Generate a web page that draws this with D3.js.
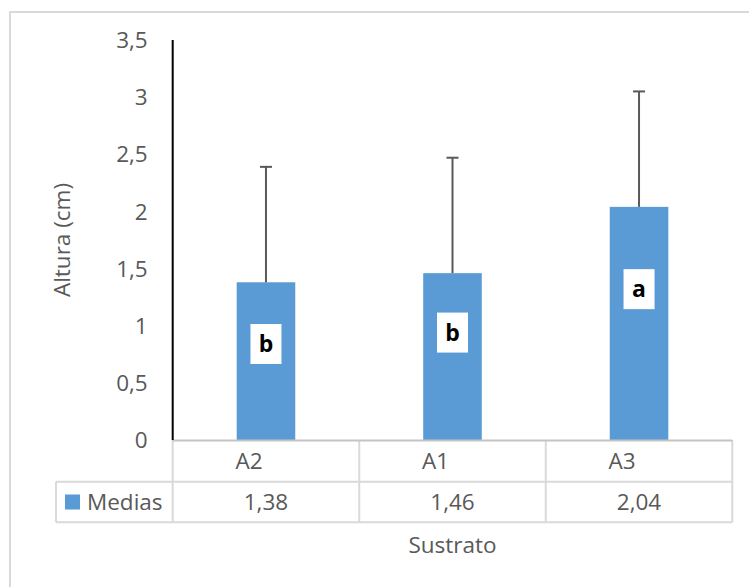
<!DOCTYPE html>
<html>
<head>
<meta charset="utf-8">
<script src="https://cdn.jsdelivr.net/npm/d3@7/dist/d3.min.js"></script>
<style>
  html, body { margin: 0; padding: 0; background: #fff; }
  svg { display: block; }
  text { font-family: "Open Sans", Lato, sans-serif; }
</style>
</head>
<body>
<svg id="chart" width="749" height="587"></svg>
<script>
// ---- data ----
const categories = ["A2", "A1", "A3"];
const means = [1.38, 1.46, 2.04];
const meanLabels = ["1,38", "1,46", "2,04"];
const errors = [1.01, 1.01, 1.01];
const letters = ["b", "b", "a"];
const letterAt = [0.84, 0.94, 1.32];   // value (cm) where the letter box is centred
const yTicks = [0, 0.5, 1, 1.5, 2, 2.5, 3, 3.5];
const seriesName = "Medias";
const yTitle = "Altura (cm)";
const xTitle = "Sustrato";

// ---- layout ----
const W = 749, H = 587;
const plotLeft = 172.7, plotRight = 732.3, plotTop = 40, plotBottom = 440;
const rowH = 41;
const fs = 22.5;
const barColor = "#5b9bd5";
const textColor = "#595959";
const gridColor = "#d9d9d9";

const svg = d3.select("#chart");

// outer chart border (only top/left visible in frame)
svg.append("rect")
  .attr("x", 10).attr("y", 12)
  .attr("width", W + 20).attr("height", H + 20)
  .attr("fill", "#fff").attr("stroke", gridColor).attr("stroke-width", 2);

const data = categories.map((c, i) => ({
  cat: c, mean: means[i], label: meanLabels[i], err: errors[i],
  letter: letters[i], letterAt: letterAt[i]
}));

const p = 0.686;
const x = d3.scaleBand().domain(categories)
  .range([plotLeft, plotRight]).paddingInner(p).paddingOuter(p / 2);
const y = d3.scaleLinear().domain([0, 3.5]).range([plotBottom, plotTop]);
const step = x.step();
const cellLeft = c => x(c) - step * p / 2;
const center = c => x(c) + x.bandwidth() / 2;

// y tick labels
const fmt = v => String(v).replace(".", ",");
svg.append("g").selectAll("text").data(yTicks).join("text")
  .attr("x", plotLeft - 25)
  .attr("y", d => y(d))
  .attr("dy", "0.36em")
  .attr("text-anchor", "end")
  .attr("font-size", fs)
  .attr("fill", textColor)
  .text(fmt);

// bars
svg.append("g").selectAll("rect").data(data).join("rect")
  .attr("x", d => x(d.cat))
  .attr("y", d => y(d.mean))
  .attr("width", x.bandwidth())
  .attr("height", d => y(0) - y(d.mean))
  .attr("fill", barColor);

// error bars
const eb = svg.append("g").attr("stroke", "#595959").attr("stroke-width", 2);
eb.selectAll("line.v").data(data).join("line").attr("class", "v")
  .attr("x1", d => center(d.cat)).attr("x2", d => center(d.cat))
  .attr("y1", d => y(d.mean)).attr("y2", d => y(d.mean + d.err));
eb.selectAll("line.c").data(data).join("line").attr("class", "c")
  .attr("x1", d => center(d.cat) - 6).attr("x2", d => center(d.cat) + 6)
  .attr("y1", d => y(d.mean + d.err)).attr("y2", d => y(d.mean + d.err));

// letter labels
const lg = svg.append("g").selectAll("g").data(data).join("g")
  .attr("transform", d => `translate(${center(d.cat)},${y(d.letterAt)})`);
lg.append("rect").attr("x", -15.5).attr("y", -20).attr("width", 31).attr("height", 40)
  .attr("fill", "#fff");
lg.append("text").attr("text-anchor", "middle").attr("dy", "0.36em")
  .attr("font-size", 23).attr("font-weight", "bold").attr("fill", "#000")
  .text(d => d.letter);

// data table lines
const tl = svg.append("g").attr("stroke", gridColor).attr("stroke-width", 2).attr("fill", "none");
const legendLeft = 56;
const row1 = plotBottom, row2 = plotBottom + rowH + 0.7, row3 = row2 + rowH - 0.4;
tl.append("line").attr("x1", legendLeft).attr("x2", plotRight).attr("y1", row2).attr("y2", row2);
tl.append("line").attr("x1", legendLeft).attr("x2", plotRight).attr("y1", row3).attr("y2", row3);
tl.append("line").attr("x1", legendLeft).attr("x2", legendLeft).attr("y1", row2).attr("y2", row3);
tl.append("line").attr("x1", plotLeft).attr("x2", plotLeft).attr("y1", row1).attr("y2", row3);
tl.selectAll("line.b").data(categories).join("line").attr("class", "b")
  .attr("x1", d => cellLeft(d) + step).attr("x2", d => cellLeft(d) + step)
  .attr("y1", row1).attr("y2", row3);

// x axis line
svg.append("line").attr("x1", plotLeft).attr("x2", plotRight)
  .attr("y1", plotBottom + 0.5).attr("y2", plotBottom + 0.5)
  .attr("stroke", "#c4c4c4").attr("stroke-width", 2);

// y axis line
svg.append("line").attr("x1", plotLeft).attr("x2", plotLeft)
  .attr("y1", y(3.5)).attr("y2", y(0))
  .attr("stroke", "#000").attr("stroke-width", 2);

// category labels
svg.append("g").selectAll("text").data(categories).join("text")
  .attr("x", d => center(d) - 17)
  .attr("y", (row1 + row2) / 2)
  .attr("dy", "0.36em").attr("text-anchor", "middle")
  .attr("font-size", fs).attr("fill", textColor)
  .text(d => d);

// value labels
svg.append("g").selectAll("text").data(data).join("text")
  .attr("x", d => center(d.cat))
  .attr("y", (row2 + row3) / 2)
  .attr("dy", "0.36em").attr("text-anchor", "middle")
  .attr("font-size", fs).attr("fill", textColor)
  .text(d => d.label);

// legend key in table
svg.append("rect").attr("x", 65).attr("y", (row2 + row3) / 2 - 7.5)
  .attr("width", 15).attr("height", 15).attr("fill", barColor);
svg.append("text").attr("x", 87).attr("y", (row2 + row3) / 2)
  .attr("dy", "0.36em").attr("font-size", fs).attr("fill", textColor)
  .text(seriesName);

// axis titles
svg.append("text")
  .attr("transform", `translate(62,${(plotTop + plotBottom) / 2}) rotate(-90)`)
  .attr("text-anchor", "middle").attr("dy", "0.36em")
  .attr("font-size", fs).attr("fill", textColor)
  .text(yTitle);
svg.append("text")
  .attr("x", (plotLeft + plotRight) / 2).attr("y", 545)
  .attr("text-anchor", "middle").attr("dy", "0.36em")
  .attr("font-size", fs).attr("fill", textColor)
  .text(xTitle);
</script>
</body>
</html>
